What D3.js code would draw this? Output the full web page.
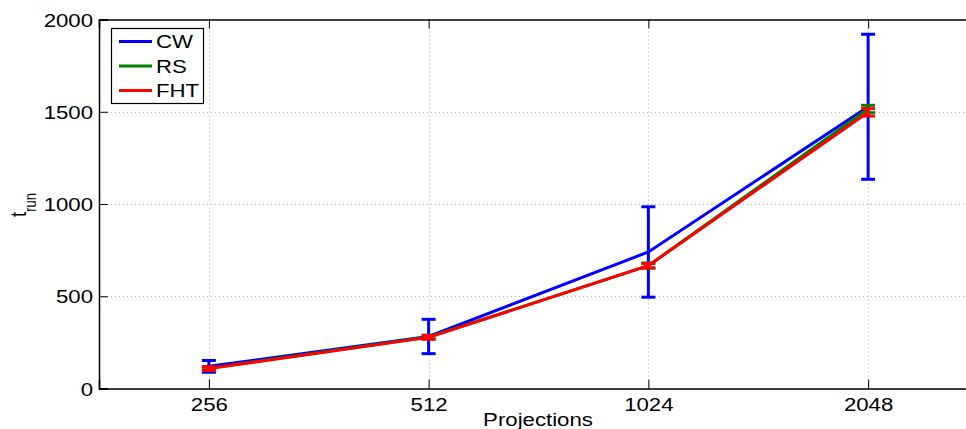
<!DOCTYPE html>
<html>
<head>
<meta charset="utf-8">
<script src="https://cdn.jsdelivr.net/npm/d3@7"></script>
<style>
  body { margin: 0; background: #fff; }
  text { font-family: "Liberation Sans", Arial, sans-serif; fill: #000; }
</style>
</head>
<body>
<svg id="chart" width="966" height="429"></svg>
<script>
  'use strict';

  // Data.
  var projections = [ '256', '512', '1024', '2048' ];
  var yTicks      = [ 0, 500, 1000, 1500, 2000 ];

  var cwMean  = [ 120, 282, 740, 1527 ],
      cwErr   = [ 32, 93, 245, 393 ];
  var rsMean  = [ 110, 279, 666, 1515 ],
      rsErr   = [ 8, 10, 14, 20 ];
  var fhtMean = [ 108, 277, 666, 1497 ],
      fhtErr  = [ 10, 10, 12, 20 ];

  var seriesNames  = [ 'CW', 'RS', 'FHT' ],
      seriesColors = [ '#0000ff', '#008000', '#ff0000' ];

  var series = [
    { name: seriesNames[0], color: seriesColors[0], mean: cwMean,  err: cwErr },
    { name: seriesNames[1], color: seriesColors[1], mean: rsMean,  err: rsErr },
    { name: seriesNames[2], color: seriesColors[2], mean: fhtMean, err: fhtErr }
  ];

  var margin = { left: 99, top: 19.5, right: 978, bottom: 388.5 };

  // The reference font is stretched horizontally.
  var stretch = 1.2;

  function widen( sel ) {
    sel.each( function() {
      var t = d3.select( this ),
          x0 = +t.attr( 'x' ) || 0;
      t.attr( 'x', x0 / stretch )
       .attr( 'transform', ( t.attr( 'transform' ) || '' ) + ' scale(' + stretch + ',1)' );
    });
  }

  var svg = d3.select( '#chart' );

  // x: category index, with half a step of padding each side (MATLAB style).
  var x = d3.scaleLinear()
    .domain( [ 0.5, projections.length + 0.5 ] )
    .range( [ margin.left, margin.right ] );

  var y = d3.scaleLinear()
    .domain( [ 0, 2000 ] )
    .range( [ margin.bottom, margin.top ] );

  var idx = d3.range( projections.length ).map( function( i ) { return i + 1; } );

  // Grid.
  var grid = svg.append( 'g' )
    .attr( 'stroke', '#b0b0b0' )
    .attr( 'stroke-width', 1 )
    .attr( 'stroke-dasharray', '1,3' );

  grid.selectAll( 'line.gx' )
    .data( idx )
    .enter().append( 'line' )
      .attr( 'x1', function( d ) { return Math.round( x( d ) ) + 0.5; } )
      .attr( 'x2', function( d ) { return Math.round( x( d ) ) + 0.5; } )
      .attr( 'y1', margin.top )
      .attr( 'y2', margin.bottom );

  grid.selectAll( 'line.gy' )
    .data( yTicks.slice( 1, -1 ) )
    .enter().append( 'line' )
      .attr( 'x1', margin.left )
      .attr( 'x2', margin.right )
      .attr( 'y1', function( d ) { return Math.round( y( d ) ) + 0.5; } )
      .attr( 'y2', function( d ) { return Math.round( y( d ) ) + 0.5; } );

  // Axes (ticks pointing inward, box on top and right).
  var xAxis = d3.axisBottom( x )
    .tickValues( idx )
    .tickFormat( function( d ) { return projections[ d - 1 ]; } )
    .tickSize( -9 )
    .tickPadding( 9 );

  var yAxis = d3.axisLeft( y )
    .tickValues( yTicks )
    .tickFormat( d3.format( 'd' ) )
    .tickSize( -9 )
    .tickPadding( 6 );

  var gx = svg.append( 'g' )
    .attr( 'transform', 'translate(0,' + margin.bottom + ')' )
    .call( xAxis );

  var gy = svg.append( 'g' )
    .attr( 'transform', 'translate(' + margin.left + ',0)' )
    .call( yAxis );

  svg.append( 'g' )
    .attr( 'transform', 'translate(0,' + margin.top + ')' )
    .call( d3.axisTop( x ).tickValues( idx ).tickSize( -9 ).tickFormat( '' ) );

  [ gx, gy ].forEach( function( g ) {
    g.attr( 'font-family', null ).attr( 'font-size', null );
    g.selectAll( 'text' )
      .style( 'font-size', '18.5px' )
      .style( 'fill', '#000' )
      .call( widen );
  });
  svg.selectAll( '.domain' ).attr( 'stroke', '#000' ).attr( 'stroke-width', 1.5 );
  svg.selectAll( '.tick line' ).attr( 'stroke', '#000' ).attr( 'stroke-width', 1 );
  gy.selectAll( 'text' ).attr( 'dy', '0.36em' );

  // Lines.
  var line = d3.line()
    .x( function( d, i ) { return x( i + 1 ); } )
    .y( function( d ) { return y( d ); } );

  var capHalf = 7;

  series.forEach( function( s ) {
    var g = svg.append( 'g' )
      .attr( 'stroke', s.color )
      .attr( 'stroke-width', 3 )
      .attr( 'fill', 'none' );

    g.append( 'path' )
      .attr( 'd', line( s.mean ) );

    var bar = g.selectAll( 'g.err' )
      .data( s.mean.map( function( m, i ) {
        return { i: i + 1, lo: m - s.err[ i ], hi: m + s.err[ i ] };
      }) )
      .enter().append( 'g' );

    bar.append( 'line' )
      .attr( 'x1', function( d ) { return x( d.i ); } )
      .attr( 'x2', function( d ) { return x( d.i ); } )
      .attr( 'y1', function( d ) { return y( d.lo ); } )
      .attr( 'y2', function( d ) { return y( d.hi ); } );

    [ 'lo', 'hi' ].forEach( function( k ) {
      bar.append( 'line' )
        .attr( 'x1', function( d ) { return x( d.i ) - capHalf; } )
        .attr( 'x2', function( d ) { return x( d.i ) + capHalf; } )
        .attr( 'y1', function( d ) { return y( d[ k ] ); } )
        .attr( 'y2', function( d ) { return y( d[ k ] ); } );
    });
  });

  // Axis labels.
  svg.append( 'text' )
    .attr( 'x', 538 )
    .attr( 'y', 426 )
    .attr( 'text-anchor', 'middle' )
    .style( 'font-size', '18.5px' )
    .text( 'Projections' )
    .call( widen );

  // Rotated, so the stretch goes along the local y axis.
  var yl = svg.append( 'text' )
    .attr( 'transform', 'translate(26,205) rotate(-90) scale(1,' + stretch + ')' )
    .attr( 'text-anchor', 'middle' )
    .style( 'font-size', '18.5px' );
  yl.append( 'tspan' ).text( 't' );
  yl.append( 'tspan' )
    .attr( 'dy', 8.5 )
    .style( 'font-size', '13px' )
    .text( 'run' );

  // Legend.
  var legend = svg.append( 'g' );
  legend.append( 'rect' )
    .attr( 'x', 111.5 )
    .attr( 'y', 28.5 )
    .attr( 'width', 92 )
    .attr( 'height', 75 )
    .attr( 'fill', '#fff' )
    .attr( 'stroke', '#000' )
    .attr( 'stroke-width', 1.2 );

  var item = legend.selectAll( 'g.item' )
    .data( series )
    .enter().append( 'g' )
      .attr( 'transform', function( d, i ) { return 'translate(0,' + ( 41.5 + i * 24.5 ) + ')'; } );

  item.append( 'line' )
    .attr( 'x1', 119 )
    .attr( 'x2', 152 )
    .attr( 'stroke', function( d ) { return d.color; } )
    .attr( 'stroke-width', 3 );

  item.append( 'text' )
    .attr( 'x', 156 )
    .attr( 'dy', '0.36em' )
    .style( 'font-size', '18.5px' )
    .text( function( d ) { return d.name; } )
    .call( widen );
</script>
</body>
</html>
